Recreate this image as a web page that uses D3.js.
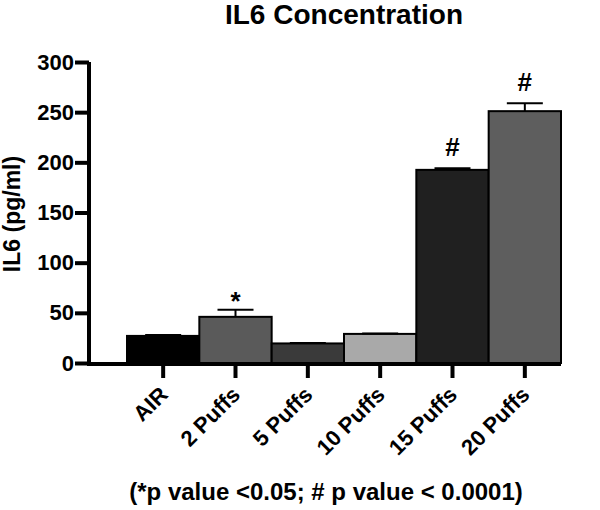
<!DOCTYPE html>
<html lang="en">
<head>
  <title>IL6 Concentration</title>
  <script src="https://d3js.org/d3.v7.min.js"></script>
  <style>
    body { margin: 0; background: #fff; }
    text { font-family: "Liberation Sans", Arial, sans-serif; font-weight: bold; }
  </style>
</head>
<body>
<script>
// data
var groups = ["AIR", "2 Puffs", "5 Puffs", "10 Puffs", "15 Puffs", "20 Puffs"];
var il6 = [27, 46, 19.5, 29, 192.5, 251];
var sem = [1, 7, 0.5, 0.5, 1.5, 8];
var marks = ["", "*", "", "", "#", "#"];
var fills = ["#000000", "#5a5a5a", "#3a3a3a", "#a9a9a9", "#202020", "#5e5e5e"];
var yTicks = [0, 50, 100, 150, 200, 250, 300];

var W = 600, H = 510;
var svg = d3.select("body").append("svg").attr("width", W).attr("height", H);

var x = d3.scaleBand().domain(groups).range([127, 561]).padding(0);
var y = d3.scaleLinear().domain([0, 300]).range([363, 62]);

// bars
svg.selectAll("rect.bar").data(groups).enter().append("rect")
  .attr("class", "bar")
  .attr("x", function(d){ return x(d); })
  .attr("width", x.bandwidth())
  .attr("y", function(d, i){ return y(il6[i]); })
  .attr("height", function(d, i){ return y(0) - y(il6[i]); })
  .attr("fill", function(d, i){ return fills[i]; })
  .attr("stroke", "#000").attr("stroke-width", 2);

// error bars (upper only)
var eb = svg.selectAll("g.err").data(groups).enter().append("g").attr("class", "err");
eb.append("line")
  .attr("x1", function(d){ return x(d) + x.bandwidth()/2; })
  .attr("x2", function(d){ return x(d) + x.bandwidth()/2; })
  .attr("y1", function(d, i){ return y(il6[i]); })
  .attr("y2", function(d, i){ return y(il6[i] + sem[i]); })
  .attr("stroke", "#000").attr("stroke-width", 2);
eb.append("line")
  .attr("x1", function(d){ return x(d) + x.bandwidth()/2 - 18; })
  .attr("x2", function(d){ return x(d) + x.bandwidth()/2 + 18; })
  .attr("y1", function(d, i){ return y(il6[i] + sem[i]); })
  .attr("y2", function(d, i){ return y(il6[i] + sem[i]); })
  .attr("stroke", "#000").attr("stroke-width", 2);

// significance marks
svg.selectAll("text.sig").data(groups).enter().append("text")
  .attr("class", "sig")
  .attr("x", function(d){ return x(d) + x.bandwidth()/2; })
  .attr("y", function(d, i){ return y(il6[i] + sem[i]) - (marks[i] == "*" ? 0 : 12); })
  .attr("text-anchor", "middle")
  .style("font-size", function(d, i){ return marks[i] == "*" ? "26px" : "26px"; })
  .text(function(d, i){ return marks[i]; });

// y axis
var yAxis = svg.append("g").attr("transform", "translate(89,0)")
  .call(d3.axisLeft(y).tickValues(yTicks).tickSize(14).tickPadding(1));
yAxis.select(".domain").attr("d", "M0,62V365").attr("stroke-width", 4);
yAxis.selectAll(".tick line").attr("stroke-width", 4);
yAxis.selectAll(".tick text").style("font-size", "22px").attr("fill", "#000")
  .style("font-family", "'Liberation Sans', Arial, sans-serif").style("font-weight", "bold");

// x axis
var xAxis = svg.append("g").attr("transform", "translate(0,364)")
  .call(d3.axisBottom(x).tickSize(14).tickSizeOuter(0));
xAxis.select(".domain").attr("d", "M87,0H561").attr("stroke-width", 4);
xAxis.selectAll(".tick line").attr("stroke-width", 4);
xAxis.selectAll(".tick text")
  .attr("x", 0).attr("y", 0).attr("dy", 0)
  .attr("transform", "translate(6,32) rotate(-45)")
  .attr("text-anchor", "end")
  .style("font-size", "22px").attr("fill", "#000")
  .style("font-family", "'Liberation Sans', Arial, sans-serif").style("font-weight", "bold");

// y label
svg.append("text")
  .attr("transform", "translate(20,214) rotate(-90)")
  .attr("text-anchor", "middle")
  .style("font-size", "23px")
  .text("IL6 (pg/ml)");

// title
svg.append("text")
  .attr("x", 344).attr("y", 24)
  .attr("text-anchor", "middle")
  .style("font-size", "28px")
  .text("IL6 Concentration");

// footnote
svg.append("text")
  .attr("x", 326).attr("y", 500)
  .attr("text-anchor", "middle")
  .style("font-size", "24px")
  .text("(*p value <0.05; # p value < 0.0001)");
</script>
</body>
</html>
